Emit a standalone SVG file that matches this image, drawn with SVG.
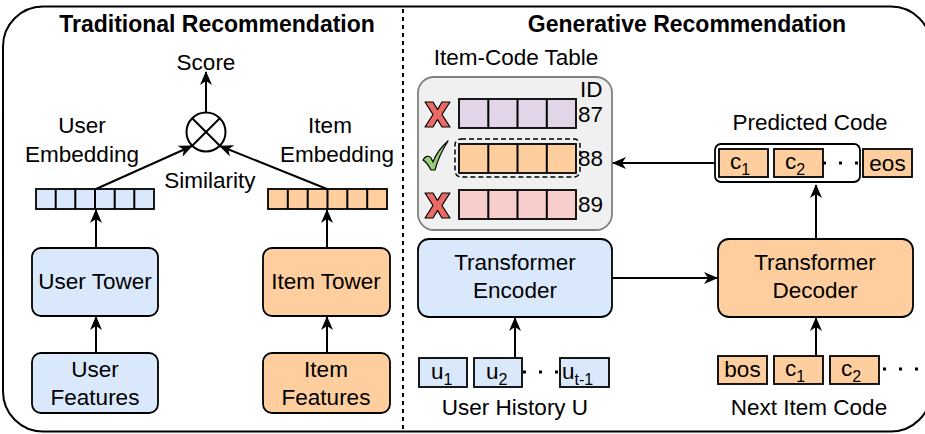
<svg xmlns="http://www.w3.org/2000/svg" width="925" height="434" viewBox="0 0 925 434">
<defs>
<marker id="arr" viewBox="0 0 14 12" refX="13" refY="6" markerWidth="14" markerHeight="12" orient="auto" markerUnits="userSpaceOnUse">
<path d="M0,0 L14,6 L0,12 L4,6 z" fill="#000"/>
</marker>
</defs>
<style>
text{font-family:"Liberation Sans",Arial,sans-serif;font-size:22.5px;fill:#000}
.t{font-weight:bold;font-size:23px}
.c{text-anchor:middle}
.sub{font-size:16px}
.blue{fill:#dae8fc;stroke:#000;stroke-width:1.8}
.org{fill:#ffce9f;stroke:#000;stroke-width:1.8}
.pur{fill:#e1d5e7;stroke:#000;stroke-width:1.8}
.pink{fill:#f8cecc;stroke:#000;stroke-width:1.8}
.ln{stroke:#000;stroke-width:2;fill:none}
.dots{stroke:#000;stroke-width:3;stroke-dasharray:3 13;fill:none}
.xm{fill:#ea6b66;stroke:#000;stroke-width:1.2;stroke-linejoin:round}
</style>
<rect x="3" y="6.5" width="928" height="425" rx="40" fill="#fff" stroke="#000" stroke-width="2"/>
<line x1="403" y1="9" x2="403" y2="432" stroke="#000" stroke-width="2" stroke-dasharray="4 4"/>
<text class="t c" x="217" y="32">Traditional Recommendation</text>
<text class="t c" x="687" y="32">Generative Recommendation</text>

<g id="score"><text class="c" x="206" y="70">Score</text></g>
<g id="similarity">
<circle cx="206" cy="132" r="19.5" fill="#fff" stroke="#000" stroke-width="2"/>
<line class="ln" x1="192.2" y1="118.2" x2="219.8" y2="145.8"/>
<line class="ln" x1="219.8" y1="118.2" x2="192.2" y2="145.8"/>
<text class="c" x="210" y="188">Similarity</text>
</g>
<g id="user-embedding">
<text class="c" x="82" y="133">User</text>
<text class="c" x="82" y="162">Embedding</text>
<rect class="blue" x="36" y="189" width="118" height="20"/>
<path class="ln" d="M55.7,189v20M75.3,189v20M95,189v20M114.7,189v20M134.3,189v20" stroke-width="1.8"/>
</g>
<g id="item-embedding">
<text class="c" x="330" y="133">Item</text>
<text class="c" x="337" y="162">Embedding</text>
<rect class="org" x="268" y="189" width="119" height="20"/>
<path class="ln" d="M287.8,189v20M307.7,189v20M327.5,189v20M347.3,189v20M367.2,189v20" stroke-width="1.8"/>
</g>
<g id="user-tower">
<rect class="blue" x="32" y="248" width="126" height="68" rx="9"/>
<text class="c" x="95" y="289">User Tower</text>
</g>
<g id="user-features">
<rect class="blue" x="32" y="353" width="126" height="60" rx="9"/>
<text class="c" x="95" y="377">User</text>
<text class="c" x="95" y="405">Features</text>
</g>
<g id="item-tower">
<rect class="org" x="263" y="248" width="127" height="68" rx="9"/>
<text class="c" x="326" y="289">Item Tower</text>
</g>
<g id="item-features">
<rect class="org" x="263" y="353" width="127" height="60" rx="9"/>
<text class="c" x="326" y="377">Item</text>
<text class="c" x="326" y="405">Features</text>
</g>

<g id="item-code-table">
<text class="c" x="516" y="65">Item-Code Table</text>
<rect x="418" y="77" width="194" height="153" rx="16" fill="#f0f0f0" stroke="#808080" stroke-width="1.8"/>
<text x="580" y="97">ID</text>
<rect class="pur" x="459" y="99" width="117" height="29"/>
<path class="ln" d="M488.3,99v29M517.5,99v29M546.8,99v29" stroke-width="1.8"/>
<text x="578" y="122">87</text>
<rect x="455" y="139" width="125" height="38" rx="6" fill="none" stroke="#000" stroke-width="1.5" stroke-dasharray="5 3"/>
<rect class="org" x="459" y="144" width="117" height="29"/>
<path class="ln" d="M488.3,144v29M517.5,144v29M546.8,144v29" stroke-width="1.8"/>
<text x="578" y="166">88</text>
<rect class="pink" x="459" y="190" width="117" height="29"/>
<path class="ln" d="M488.3,190v29M517.5,190v29M546.8,190v29" stroke-width="1.8"/>
<text x="578" y="212">89</text>
<path class="xm" d="M425,102 L433,102 L437.5,109.5 L442,102 L450,102 L442,114.5 L450,127 L442,127 L437.5,119.5 L433,127 L425,127 L433,114.5 z"/>
<path class="xm" d="M425,193 L433,193 L437.5,200.5 L442,193 L450,193 L442,205.5 L450,218 L442,218 L437.5,210.5 L433,218 L425,218 L433,205.5 z"/>
<path d="M423,160 C425,156 429,155 431,158 L433,162 C436,154 441,147 448,141 C443,149 438,158 435,170 L431,170 C429,166 426,162 423,160 z" fill="#97d077" stroke="#000" stroke-width="1.2" stroke-linejoin="round"/>
</g>

<g id="predicted-code">
<text class="c" x="810" y="130">Predicted Code</text>
<rect x="715" y="144" width="145" height="38" rx="6" fill="#fff" stroke="#000" stroke-width="1.8"/>
<rect class="org" x="719" y="149" width="49" height="28"/>
<text x="730" y="169">c<tspan class="sub" dy="6">1</tspan></text>
<rect class="org" x="774" y="149" width="49" height="28"/>
<text x="785" y="169">c<tspan class="sub" dy="6">2</tspan></text>
<line class="dots" x1="823" y1="163" x2="858" y2="163" stroke-dasharray="3 13.5"/>
<rect class="org" x="863" y="149" width="49" height="28"/>
<text class="c" x="887.5" y="171">eos</text>
</g>

<g id="transformer-encoder">
<rect class="blue" x="418" y="239" width="194" height="78" rx="11"/>
<text class="c" x="515" y="270">Transformer</text>
<text class="c" x="515" y="298">Encoder</text>
</g>
<g id="transformer-decoder">
<rect class="org" x="718" y="239" width="195" height="78" rx="11"/>
<text class="c" x="815" y="270">Transformer</text>
<text class="c" x="815" y="298">Decoder</text>
</g>

<g id="user-history">
<rect class="blue" x="419" y="358" width="48" height="29"/>
<text x="431" y="379">u<tspan class="sub" dy="6">1</tspan></text>
<rect class="blue" x="474" y="358" width="48" height="29"/>
<text x="486" y="379">u<tspan class="sub" dy="6">2</tspan></text>
<line class="dots" x1="523" y1="372" x2="558" y2="372" stroke-dasharray="3 13"/>
<rect class="blue" x="560" y="358" width="49" height="29"/>
<text x="562" y="379">u<tspan class="sub" dy="6">t-1</tspan></text>
<text class="c" x="515" y="415">User History U</text>
</g>

<g id="next-item-code">
<rect class="org" x="718" y="356" width="49" height="28"/>
<text class="c" x="742.5" y="377">bos</text>
<rect class="org" x="774" y="356" width="49" height="28"/>
<text x="785" y="376">c<tspan class="sub" dy="6">1</tspan></text>
<rect class="org" x="830" y="356" width="49" height="28"/>
<text x="841" y="376">c<tspan class="sub" dy="6">2</tspan></text>
<line class="dots" x1="883" y1="369" x2="918" y2="369" stroke-dasharray="3 13"/>
<text class="c" x="809" y="415">Next Item Code</text>
</g>

<g id="connectors" class="ln" marker-end="url(#arr)">
<line x1="206" y1="112" x2="206" y2="72"/>
<line x1="96" y1="189" x2="192" y2="146"/>
<line x1="327" y1="189" x2="220" y2="146"/>
<line x1="96" y1="248" x2="96" y2="210"/>
<line x1="96" y1="353" x2="96" y2="317"/>
<line x1="327" y1="248" x2="327" y2="210"/>
<line x1="327" y1="353" x2="327" y2="317"/>
<line x1="715" y1="163" x2="613" y2="163"/>
<line x1="816" y1="239" x2="816" y2="185"/>
<line x1="612" y1="278" x2="717" y2="278"/>
<line x1="515" y1="358" x2="515" y2="318"/>
<line x1="816" y1="356" x2="816" y2="318"/>
</g>
</svg>
